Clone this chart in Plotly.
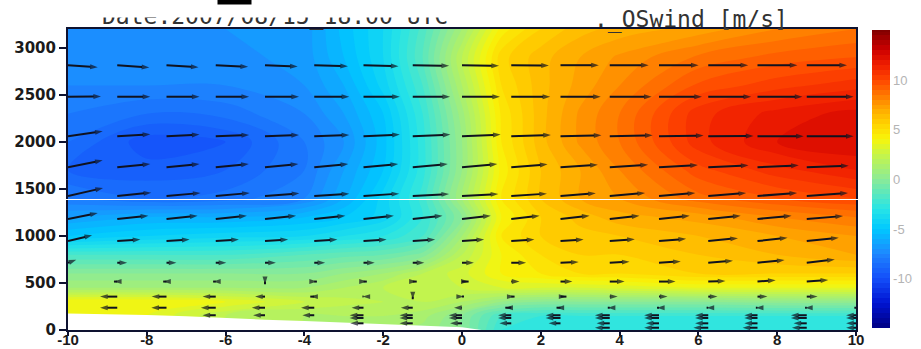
import plotly.graph_objects as go

# ---------------- contour field (cross-section wind, m/s) ----------------
x_grid = [-10, -8, -6, -4, -3, -2, -1, 0, 1, 2, 3, 4, 6, 8, 10]
y_grid = [0, 150, 300, 450, 600, 800, 1000, 1200, 1400, 1700, 2000, 2300, 2600, 2900, 3200]

wind_0000 = [4, 3.5, 2, 1.5, 1.2, 1, 0.8, 0, -2.5, -3, -3, -3, -3, -3, -3]
wind_0150 = [4, 3.5, 2, 1.5, 1.5, 1.5, 1.2, 0, -2, -2.5, -2.5, -2.5, -2.5, -2.5, -2.5]
wind_0300 = [4, 4, 3.5, 2.5, 2.2, 2, 2, 1.5, 0.5, 0, 0, 0, 0, 0.2, 0.2]
wind_0450 = [1, 1, 1, 1, 1.5, 2, 2.5, 2.5, 3, 3, 3, 3.2, 3.5, 3.5, 3.5]
wind_0600 = [0, 0, 0, 0, 0.5, 1, 2, 2.8, 4, 4.5, 5, 5, 5.5, 5.5, 5.5]
wind_0800 = [-2, -2, -2, -1.5, -1.2, -1, -0.3, 2, 4, 5, 5.5, 5.5, 6, 6.5, 7]
wind_1000 = [-5, -4.5, -4.2, -4, -3.5, -3, -2, 1, 4.5, 5.5, 5.8, 6, 6.5, 7, 7.5]
wind_1200 = [-6.5, -6, -6, -5.5, -5, -4.3, -2.5, 0, 4, 5.5, 6.2, 6.8, 7.2, 8, 8.5]
wind_1400 = [-8, -8.5, -8.3, -7.5, -6, -4.3, -2.3, 1, 4.5, 6, 7, 7.5, 8.8, 9.5, 10]
wind_1700 = [-9, -9.3, -9, -8, -6.5, -5, -2.7, 0.5, 4.2, 6, 7, 8, 9.8, 10.8, 11.5]
wind_2000 = [-8.5, -9.8, -9.5, -8, -7, -5.2, -2.7, 0.5, 4.5, 6.3, 7.6, 8.5, 10.8, 12, 12.5]
wind_2300 = [-8, -8.5, -8.3, -7.5, -6.5, -5, -2.5, 0.8, 4.6, 6.3, 7.6, 8.5, 10.8, 11.7, 12.2]
wind_2600 = [-7.5, -7.5, -7.5, -7, -6, -4.3, -2, 1.5, 5, 6.3, 7.2, 8, 9.6, 10.3, 10.8]
wind_2900 = [-7.3, -7.3, -7.2, -6.8, -5.5, -4, -1.5, 2, 5.3, 6.3, 7, 7.6, 8.6, 9.2, 9.5]
wind_3200 = [-7, -7, -7, -6.8, -5.3, -4, -1.8, 1, 4.2, 5.5, 6.3, 6.7, 7.2, 8, 8.5]

# ---------------- terrain (masked white area) ----------------
terrain_x = [-10, -9, -8, -7, -6, -5, -4, -3, -2, -1, -0.5, 0, 0.5, 10]
terrain_h = [175, 168, 160, 145, 125, 110, 95, 78, 60, 50, 42, 28, 0, 0]

# ---------------- wind vectors (tails at grid points) ----------------
arrow_x = [-10, -8.75, -7.5, -6.25, -5, -3.75, -2.5, -1.25, 0, 1.25, 2.5, 3.75, 5, 6.25, 7.5, 8.75, 10]
arrow_levels = [2815, 2480, 2060, 1730, 1425, 1180, 945, 715, 515, 355, 237, 157, 128, 71, 24]
N = None
u_2815 = [9.0, 9.7, 9.7, 9.8, 9.9, 10.2, 10.6, 11.0, 11.2, 11.4, 11.6, 11.8, 12.0, 12.1, 12.1, 12.2, N]
w_2815 = [-0.6, -0.7, -0.6, -0.5, -0.4, -0.3, -0.3, -0.2, -0.2, -0.1, 0, 0, 0, 0, 0, 0, 0]
u_2480 = [10, 10, 10, 10.1, 10.3, 10.6, 11, 11.3, 11.5, 11.8, 12.2, 12.7, 13, 13, 13.6, 14.2, N]
w_2480 = [0.1, 0, 0, 0, 0, 0, 0, 0, 0, 0, 0, 0, 0, 0, 0, 0, 0]
u_2060 = [10.5, 10, 10, 10.1, 10.3, 10.6, 11, 11.4, 11.7, 12, 12.4, 13, 13.5, 13.7, 14, 14.2, N]
w_2060 = [1.5, 0.6, 0.5, 0.4, 0.4, 0.4, 0.5, 0.5, 0.5, 0.4, 0.3, 0.3, 0.2, 0.1, 0, 0, 0]
u_1730 = [10.5, 10, 10, 10, 10.1, 10.3, 10.5, 10.6, 10.7, 11, 11.3, 11.6, 11.8, 12.2, 12.5, 12.7, N]
w_1730 = [2.1, 1, 1, 1, 1, 1, 1, 1, 1, 0.9, 0.8, 0.8, 0.7, 0.6, 0.6, 0.5, 0.5]
u_1425 = [10.6, 10.3, 10.3, 10.3, 10.4, 10.6, 10.8, 11, 11, 10.8, 10.7, 10.7, 11, 11.5, 12, 12.5, N]
w_1425 = [2.4, 1, 0.9, 0.9, 0.8, 0.7, 0.7, 0.6, 0.6, 0.7, 0.8, 0.9, 0.9, 0.9, 0.9, 0.9, 0.9]
u_1180 = [9, 9.4, 9.4, 9.4, 9.4, 9.4, 9.2, 9, 8.7, 8.6, 8.8, 9, 9.3, 9.8, 10.3, 11, N]
w_1180 = [1.8, 1, 1, 1, 1, 1, 1, 1, 1, 1, 1, 1, 1, 1, 1, 0.9, 0.9]
u_945 = [7.3, 7, 7, 7, 7, 7, 7, 6.8, 6.7, 7, 7, 7.6, 8.2, 9, 9.1, 9.7, N]
w_945 = [1.8, 0.5, 0.5, 0.5, 0.5, 0.5, 0.5, 0.5, 0.5, 0.5, 0.5, 0.6, 0.7, 0.9, 1, 1, 1]
u_715 = [2.5, 3, 3, 3.2, 3.3, 3.3, 3.4, 3.5, 3.6, 4.5, 5.5, 6, 6.6, 7.5, 8.2, 8.5, N]
w_715 = [0.9, 0, 0, 0, 0, 0, 0, 0, 0, 0, 0.2, 0.3, 0.4, 0.6, 0.8, 1, 1]
u_515 = [N, -1, -1, -0.8, 0, 0.8, 1, 1.2, 2, 2.5, 3.6, 4.5, 5, 5.2, 5.5, 6.5, N]
w_515 = [0, 0, 0, 0, -0.8, 0, 0, 0, 0, 0, 0, 0, 0, 0.2, 0.4, 0.5, 0.5]
u_355 = [N, -5.2, -4.5, -4, -3, -1.2, -0.3, 0, 0.6, 1, 1.8, 2.4, 2.6, 2.8, 3, 3.3, N]
w_355 = [0, 0, 0, 0, 0, 0, 0, -0.8, 0, 0, 0, 0, 0, 0, 0, 0, 0]
u_237 = [N, -5.2, -4.6, -4.5, -4, -4, -3.6, -3.6, -2.4, -1.8, -1.2, -0.6, -0.6, -0.5, -0.5, -0.5, -0.5]
w_237 = [0, 0, 0, 0, 0, 0, 0, 0, 0, 0, 0, 0, 0, 0, 0, 0, 0]
u_157 = [N, N, N, -4, -3.6, -3.6, -4.2, -4, -4, -4, -4.5, -4.5, -4.5, -4, -4, -4.8, -3]
w_157 = [0, 0, 0, 0, 0, 0, 0, 0, 0, 0, 0, 0, 0, 0, 0, 0, 0]
u_128 = [N, N, N, N, N, N, -4.2, -4, -4, -4, -4.5, -4.5, -4.5, -4, -4, -4.8, -3]
w_128 = [0, 0, 0, 0, 0, 0, 0, 0, 0, 0, 0, 0, 0, 0, 0, 0, 0]
u_71 = [N, N, N, N, N, N, -4, -4, -3.6, -3.6, -3.6, -4, -4, -4, -4, -4, -3]
w_71 = [0, 0, 0, 0, 0, 0, 0, 0, 0, 0, 0, 0, 0, 0, 0, 0, 0]
u_24 = [N, N, N, N, N, N, N, N, N, N, N, -4.5, -4.5, -4.5, -4.5, -4.5, -3]
w_24 = [0, 0, 0, 0, 0, 0, 0, 0, 0, 0, 0, 0, 0, 0, 0, 0, 0]

x_ticks = [-10, -8, -6, -4, -2, 0, 2, 4, 6, 8, 10]
x_tick_text = ["-10", "-8", "-6", "-4", "-2", "0", "2", "4", "6", "8", "10"]
y_ticks = [0, 500, 1000, 1500, 2000, 2500, 3000]
cb_ticks = [-10, -5, 0, 5, 10]
cb_tick_text = ["-10", "-5", "0", "5", "10"]

title_left = "Date:2007/08/15_18:00 UTC"
title_right = "._OSwind [m/s]"

# ---------------- styling ----------------
W, H = 921, 349
ML, MR, MT, MB = 68, 65, 29, 19
PW = W - ML - MR
PH = H - MT - MB
ARROW_SX = 0.0838   # x-units per m/s
ARROW_SY = 35.0     # metres per unit of vertical component


def px_x(p):
    return (p - ML) / PW


def px_y(p):
    return (H - MB - p) / PH


colorscale = [
    [0.000, "rgb(0,0,130)"],
    [0.083, "rgb(0,20,210)"],
    [0.167, "rgb(20,80,250)"],
    [0.250, "rgb(30,135,255)"],
    [0.333, "rgb(0,200,255)"],
    [0.400, "rgb(40,228,230)"],
    [0.500, "rgb(140,235,150)"],
    [0.583, "rgb(200,245,70)"],
    [0.633, "rgb(248,245,10)"],
    [0.683, "rgb(255,210,0)"],
    [0.733, "rgb(255,170,0)"],
    [0.783, "rgb(255,120,0)"],
    [0.833, "rgb(255,70,0)"],
    [0.883, "rgb(240,30,0)"],
    [0.933, "rgb(205,0,0)"],
    [1.000, "rgb(130,0,0)"],
]

z = [wind_0000, wind_0150, wind_0300, wind_0450, wind_0600, wind_0800, wind_1000,
     wind_1200, wind_1400, wind_1700, wind_2000, wind_2300, wind_2600, wind_2900, wind_3200]

fig = go.Figure()
fig.add_trace(go.Contour(
    x=x_grid, y=y_grid, z=z,
    zmin=-15, zmax=15, colorscale=colorscale,
    contours=dict(start=-15, end=15, size=0.5, coloring="fill", showlines=False),
    line=dict(width=0),
    colorbar=dict(
        x=px_x(872), xanchor="left", xpad=0, ypad=0,
        y=0.5, yanchor="middle", len=298, lenmode="pixels",
        thickness=18, outlinewidth=0,
        tickvals=cb_ticks, ticktext=cb_tick_text, ticks="",
        tickfont=dict(family="Liberation Sans", size=13, color="#b4b4b4"),
    ),
    hoverinfo="skip",
))

fig.add_trace(go.Scatter(
    x=terrain_x, y=terrain_h, mode="lines", fill="tozeroy",
    fillcolor="white", line=dict(width=0, color="white"), hoverinfo="skip",
))

u_rows = [u_2815, u_2480, u_2060, u_1730, u_1425, u_1180, u_945, u_715, u_515,
          u_355, u_237, u_157, u_128, u_71, u_24]
w_rows = [w_2815, w_2480, w_2060, w_1730, w_1425, w_1180, w_945, w_715, w_515,
          w_355, w_237, w_157, w_128, w_71, w_24]
ax_x, ax_y, syms, sizes = [], [], [], []
for lev, urow, wrow in zip(arrow_levels, u_rows, w_rows):
    for x0, u, w in zip(arrow_x, urow, wrow):
        if u is None:
            continue
        ax_x += [x0, x0 + u * ARROW_SX, None]
        ax_y += [lev, lev + w * ARROW_SY, None]
        syms += ["circle", "arrow", "circle"]
        sizes += [0, 8, 0]

fig.add_trace(go.Scatter(
    x=ax_x, y=ax_y, mode="lines+markers",
    line=dict(color="#10121f", width=2),
    marker=dict(symbol=syms, size=sizes, angleref="previous",
                color="#10121f", line=dict(width=0)),
    hoverinfo="skip",
))

axis_common = dict(showline=True, mirror=True, linecolor="#0e1230", linewidth=2,
                   ticks="outside", tickcolor="#0e1230", tickwidth=1.5,
                   showgrid=False, zeroline=False)

fig.update_layout(
    template="none",
    width=W, height=H,
    margin=dict(l=ML, r=MR, t=MT, b=MB, autoexpand=False),
    paper_bgcolor="white", plot_bgcolor="white",
    showlegend=False,
    xaxis=dict(range=[-10, 10], tickvals=x_ticks, ticktext=x_tick_text, ticklen=4,
               ticklabelstandoff=-9,
               tickfont=dict(family="Liberation Sans", size=15, color="#1a1a1a", weight="bold"),
               **axis_common),
    yaxis=dict(range=[0, 3200], tickvals=y_ticks, ticklen=7,
               tickfont=dict(family="DejaVu Sans", size=15, color="#1a1a1a", weight="bold"),
               **axis_common),
    annotations=[
        dict(text=title_left, xref="paper", yref="paper", x=px_x(275), y=px_y(16.8),
             showarrow=False, xanchor="center", yanchor="middle",
             font=dict(family="DejaVu Sans Mono", size=23, color="#333333")),
        dict(text=" ", xref="paper", yref="paper", x=px_x(277), y=px_y(8.5),
             showarrow=False, xanchor="center", yanchor="middle", width=400, height=17,
             bgcolor="white", borderpad=0, font=dict(size=1)),
        dict(text=" ", xref="paper", yref="paper", x=px_x(234.5), y=px_y(1.75),
             showarrow=False, xanchor="center", yanchor="middle", width=33, height=4,
             bgcolor="black", borderpad=0, font=dict(size=1)),
        dict(text=title_right, xref="paper", yref="paper", x=px_x(691), y=px_y(19.3),
             showarrow=False, xanchor="center", yanchor="middle",
             font=dict(family="DejaVu Sans Mono", size=23, color="#333333")),
    ],
    shapes=[
        dict(type="line", xref="paper", yref="paper", x0=px_x(60), x1=px_x(890),
             y0=px_y(199.5), y1=px_y(199.5), line=dict(color="white", width=1), layer="above"),
    ],
)

fig.write_html("out.html", config={"displayModeBar": False},
               post_script="document.body.style.margin='0';document.body.style.overflow='hidden';")
